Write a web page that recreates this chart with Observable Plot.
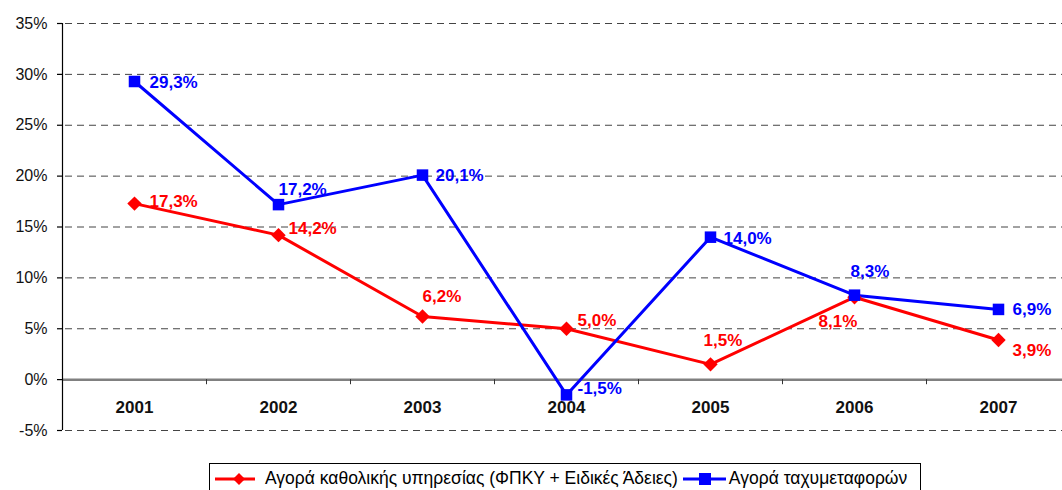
<!DOCTYPE html>
<html><head><meta charset="utf-8">
<script src="https://cdn.jsdelivr.net/npm/d3@7"></script>
<script src="https://cdn.jsdelivr.net/npm/@observablehq/plot@0.6"></script>
<style>
body{margin:0;background:#fff;font-family:"Liberation Sans",Arial,sans-serif;}
#chart{position:absolute;left:0;top:0;}
#legend{position:absolute;left:209px;top:463px;width:712px;height:40px;border:1px solid #000;box-sizing:border-box;font-size:17.5px;display:flex;align-items:flex-start;padding-top:4px;padding-left:5px;white-space:nowrap;color:#000;}
#legend .item{display:flex;align-items:center;}
#legend svg{display:block;}
</style></head>
<body>
<div id="chart"></div>
<div id="legend"></div>
<script>
const years = ["2001","2002","2003","2004","2005","2006","2007"];
const universal = [17.3, 14.2, 6.2, 5.0, 1.5, 8.1, 3.9];
const courier = [29.3, 17.2, 20.1, -1.5, 14.0, 8.3, 6.9];
const yTicks = [-5, 0, 5, 10, 15, 20, 25, 30, 35];
const seriesNames = ["Αγορά καθολικής υπηρεσίας (ΦΠΚΥ + Ειδικές Άδειες)", "Αγορά ταχυμεταφορών"];
// label offsets (dx, dy) in px, per point
const universalLabelDx = [15, 10, 0, 11, -7, -36, 14];
const universalLabelDy = [-2, -7, -20, -8, -24, 24, 11];
const courierLabelDx = [15, 0, 13, 11, 13, -4, 14];
const courierLabelDy = [1, -15, 0, -6, 1, -24, 0];

const red = "#FF0000", blue = "#0000FF";
const fmt = v => v.toFixed(1).replace(".", ",") + "%";
const U = years.map((y, i) => ({year: y, v: universal[i], dx: universalLabelDx[i], dy: universalLabelDy[i]}));
const C = years.map((y, i) => ({year: y, v: courier[i], dx: courierLabelDx[i], dy: courierLabelDy[i]}));

const W = 1062, H = 455, ML = 62, band = (1070 - ML) / years.length;

const labelMarks = (data, color) => data.map(d => Plot.text([d], {
  x: "year", y: "v", text: d => fmt(d.v), dx: d.dx, dy: d.dy, textAnchor: "start",
  fill: color, fontWeight: "bold", fontSize: 17
}));

const chart = Plot.plot({
  width: W, height: H,
  marginLeft: ML, marginRight: 0, marginTop: 23, marginBottom: 25,
  style: {fontFamily: "'Liberation Sans', Arial, sans-serif", background: "white"},
  x: {type: "point", domain: years, padding: 0, range: [ML + band / 2, 1070 - band / 2], axis: null},
  y: {domain: [-5, 35], axis: null},
  marks: [
    Plot.ruleY(yTicks.filter(t => t !== 0), {stroke: "#444", strokeDasharray: "7,5", strokeDashoffset: -3, strokeWidth: 1}),
    Plot.ruleY([0], {stroke: "#808080", strokeWidth: 2.5}),
    Plot.ruleX(years.slice(1), {x: d => d, y1: 0, y2: -0.5, dx: -band / 2, stroke: "#333", strokeWidth: 1}),
    Plot.ruleX([0], {x: () => years[0], y1: -5, y2: 35, dx: -band / 2, stroke: "#000", strokeWidth: 1.2}),
    Plot.ruleY(yTicks, {y: d => d, x1: () => years[0], x2: () => years[0], insetLeft: -(band / 2 + 5), insetRight: band / 2, stroke: "#000", strokeWidth: 1.2}),
    Plot.text(yTicks, {y: d => d, frameAnchor: "left", dx: -15, textAnchor: "end", text: d => d + "%", fontSize: 16, fill: "#111"}),
    Plot.text(years, {x: d => d, frameAnchor: "bottom", dy: -18, text: d => d, fontWeight: "bold", fontSize: 17, fill: "#111"}),
    Plot.line(U, {x: "year", y: "v", stroke: red, strokeWidth: 3}),
    Plot.line(C, {x: "year", y: "v", stroke: blue, strokeWidth: 3}),
    Plot.dot(U, {x: "year", y: "v", symbol: "diamond2", r: 6.5, fill: red, stroke: null}),
    Plot.dot(C, {x: "year", y: "v", symbol: "square", r: 6.5, fill: blue, stroke: null}),
    ...labelMarks(U, red),
    ...labelMarks(C, blue)
  ]
});
document.getElementById("chart").append(chart);

const lg = document.getElementById("legend");
const colors = [red, blue];
const shapes = ['<path d="M24 1 L30 7 L24 13 L18 7 Z" fill="' + red + '"/>', '<rect x="16" y="1" width="12" height="12" fill="' + blue + '"/>'];
const markW = [40, 43], gapAfterMark = [10, 3], gapBefore = [0, 5];
seriesNames.forEach((n, i) => {
  const it = document.createElement("div");
  it.className = "item";
  it.style.marginLeft = gapBefore[i] + "px";
  it.innerHTML = '<svg width="' + markW[i] + '" height="14" style="margin-right:' + gapAfterMark[i] + 'px"><line x1="0" x2="' + markW[i] + '" y1="7" y2="7" stroke="' + colors[i] + '" stroke-width="3"/>' + shapes[i] + '</svg><span>' + n + '</span>';
  lg.append(it);
});
</script>
</body></html>
